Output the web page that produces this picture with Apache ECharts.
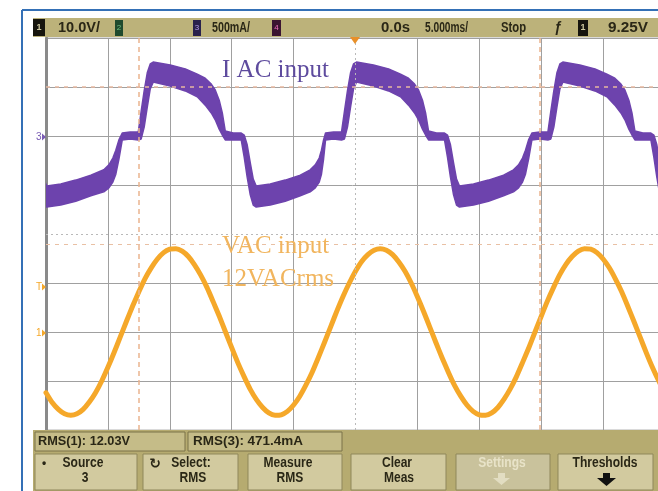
<!DOCTYPE html>
<html>
<head>
<meta charset="utf-8">
<script src="https://cdn.jsdelivr.net/npm/echarts@6/dist/echarts.min.js"></script>
<style>
  html, body { margin: 0; padding: 0; background: #ffffff; }
  #scope { width: 658px; height: 491px; }
</style>
</head>
<body>
<div id="scope"></div>
<script>
// Time base: 5 ms/div, t = 0 at the trigger point (ms)
const timeTicks = [-25, -20, -15, -10, -5, 0, 5, 10, 15, 20, 25];

// Channel 1: AC input voltage (V), 10 V/div, sampled every 0.5 ms
const voltTime = [
  -25, -24.5, -24, -23.5, -23, -22.5, -22, -21.5, -21, -20.5, -20, -19.5, -19, -18.5, -18, -17.5, -17, -16.5, -16, -15.5,
  -15, -14.5, -14, -13.5, -13, -12.5, -12, -11.5, -11, -10.5, -10, -9.5, -9, -8.5, -8, -7.5, -7, -6.5, -6, -5.5,
  -5, -4.5, -4, -3.5, -3, -2.5, -2, -1.5, -1, -0.5, 0, 0.5, 1, 1.5, 2, 2.5, 3, 3.5, 4, 4.5,
  5, 5.5, 6, 6.5, 7, 7.5, 8, 8.5, 9, 9.5, 10, 10.5, 11, 11.5, 12, 12.5, 13, 13.5, 14, 14.5,
  15, 15.5, 16, 16.5, 17, 17.5, 18, 18.5, 19, 19.5, 20, 20.5, 21, 21.5, 22, 22.5, 23, 23.5, 24, 24.5, 25
];
const voltValues = [
  -12.4, -14.4, -15.8, -16.7, -17.0, -16.7, -15.8, -14.3, -12.4, -10.0, -7.2, -4.2, -1.0, 2.2, 5.3, 8.2, 10.9, 13.1, 14.9, 16.2,
  16.9, 17.0, 16.5, 15.4, 13.7, 11.6, 9.1, 6.2, 3.2, 0.0, -3.2, -6.3, -9.1, -11.7, -13.8, -15.4, -16.5, -17.0, -16.9, -16.2,
  -14.9, -13.1, -10.8, -8.2, -5.2, -2.1, 1.1, 4.3, 7.3, 10.0, 12.4, 14.4, 15.8, 16.7, 17.0, 16.7, 15.8, 14.3, 12.4, 10.0,
  7.2, 4.2, 1.0, -2.2, -5.3, -8.2, -10.9, -13.1, -14.9, -16.2, -16.9, -17.0, -16.5, -15.4, -13.7, -11.6, -9.1, -6.2, -3.2, 0.0,
  3.2, 6.3, 9.1, 11.7, 13.8, 15.4, 16.5, 17.0, 16.9, 16.2, 14.9, 13.1, 10.8, 8.2, 5.2, 2.1, -1.1, -4.3, -7.3, -10.0, -12.4
];

// Channel 3: AC input current (mA), 500 mA/div; the trace is a band,
// so its top and bottom edges are kept separately
const currentTime = [
  -25.67, -25.42, -25.18, -24.94, -23.81, -22.60, -21.38, -20.33, -19.92, -19.60, -19.36, -19.11,
  -18.84, -18.20, -17.55, -17.31, -17.07, -16.82, -16.58, -16.34, -14.97, -13.75, -12.78, -12.14, -11.65, -11.33, -11.01, -10.76, -10.52, -9.88, -9.23, -8.99, -8.75, -8.50, -8.26, -8.02, -6.89, -5.68, -4.46, -3.66, -3.25, -2.93, -2.75, -2.58,
  -2.42, -1.78, -1.13, -0.89, -0.65, -0.40, -0.16, 0.08, 1.45, 2.67, 3.64, 4.28, 4.77, 5.09, 5.41, 5.66, 5.90, 6.54, 7.19, 7.43, 7.67, 7.92, 8.16, 8.40, 9.53, 10.74, 11.96, 12.76, 13.17, 13.49, 13.73, 13.98,
  14.25, 14.89, 15.54, 15.78, 16.02, 16.27, 16.51, 16.75, 18.12, 19.34, 20.31, 20.95, 21.44, 21.76, 22.08, 22.33, 22.57, 23.21, 23.86, 24.10, 24.34, 24.59, 24.83, 25.07
];
const currentUpper = [
  -90, -275, -440, -510, -490, -450, -400, -345, -295, -225, -145, -40,
  30, 40, 40, 255, 460, 645, 735, 755, 725, 685, 630, 590, 530, 470, 365, 235, 50, 30, 30, 10, -90, -275, -440, -510, -490, -450, -400, -345, -295, -225, -145, -40,
  30, 40, 40, 255, 460, 645, 735, 755, 725, 685, 630, 590, 530, 470, 365, 235, 50, 30, 30, 10, -90, -275, -440, -510, -490, -450, -400, -345, -295, -225, -145, -40,
  30, 40, 40, 255, 460, 645, 735, 755, 725, 685, 630, 590, 530, 470, 365, 235, 50, 30, 30, 10, -90, -275, -440, -510
];
const currentLower = [
  -420, -600, -705, -725, -705, -665, -610, -570, -530, -470, -390, -235,
  -40, -30, -40, -30, 90, 295, 480, 550, 510, 460, 400, 315, 235, 165, 70, 10, -40, -40, -40, -215, -420, -600, -705, -725, -705, -665, -610, -570, -530, -470, -390, -235,
  -40, -30, -40, -30, 90, 295, 480, 550, 510, 460, 400, 315, 235, 165, 70, 10, -40, -40, -40, -215, -420, -600, -705, -725, -705, -665, -610, -570, -530, -470, -390, -235,
  -40, -30, -40, -30, 90, 295, 480, 550, 510, 460, 400, 315, 235, 165, 70, 10, -40, -40, -40, -215, -420, -600, -705, -725
];

// Cursor positions
const xCursors = [-17.5, 14.9];   // ms
const yCursors = [50, 18];        // V

// Readouts and softkeys
const statusTexts = ['10.0V/', '500mA/', '0.0s', '5.000ms/', 'Stop', '9.25V'];
const measTexts = ['RMS(1): 12.03V', 'RMS(3): 471.4mA'];
const softkeys = [['Source', '3'], ['Select:', 'RMS'], ['Measure', 'RMS'], ['Clear', 'Meas'], ['Settings', ''], ['Thresholds', '']];

const ORANGE = '#f5a82a';
const PURPLE = '#6d43ad';
const KHAKI = '#bcb27a';
const PANEL = '#b6ab70';
const KEY = '#d2ca9f';
const INK = '#2a2716';
const UI = '"Liberation Sans", Arial, sans-serif';
const SERIF = '"Liberation Serif", "DejaVu Serif", serif';

// grid colours: the centre graticule lines are drawn separately (dotted)
const xGridColors = timeTicks.map(t => t === 0 ? 'rgba(0,0,0,0)' : '#a0a0a0');
const yGridColors = [-20, -10, 0, 10, 20, 30, 40, 50, 60].map(v => v === 20 ? 'rgba(0,0,0,0)' : '#a0a0a0');

const measureCtx = document.createElement('canvas').getContext('2d');

function rect(x, y, w, h, fill, stroke, z) {
  return { type: 'rect', z: z || 100, shape: { x: x, y: y, width: w, height: h },
    style: { fill: fill, stroke: stroke || null, lineWidth: stroke ? 1 : 0 } };
}
// scope-style condensed text: squeezed horizontally to a readout width, or by a fixed factor
function text(x, y, s, font, color, align, width, factor) {
  const el = { type: 'text', z: 110, x: x, y: y,
    style: { text: s, fill: color, font: font, align: align || 'left', verticalAlign: 'middle' } };
  if (width) {
    measureCtx.font = font;
    el.scaleX = width / measureCtx.measureText(s).width;
  } else if (factor) {
    el.scaleX = factor;
  }
  return el;
}
function poly(points, fill, z) {
  return { type: 'polygon', z: z || 110, shape: { points: points }, style: { fill: fill } };
}

const graphics = [];
// outer frame
graphics.push({ type: 'line', z: 120, shape: { x1: 22, y1: 10, x2: 658, y2: 10 }, style: { stroke: '#3470b6', lineWidth: 2 } });
graphics.push({ type: 'line', z: 120, shape: { x1: 22, y1: 10, x2: 22, y2: 491 }, style: { stroke: '#3470b6', lineWidth: 2 } });

// top status bar
const SB = 'bold 14px ' + UI;
graphics.push(rect(33, 18, 625, 19, KHAKI));
graphics.push(rect(33, 19, 12, 17, '#16150e'));
graphics.push(text(39, 28, '1', 'bold 9px ' + UI, '#cfc9a0', 'center'));
graphics.push(text(58, 28, statusTexts[0], SB, INK, 'left', 42));
graphics.push(rect(115, 20, 8, 16, '#1f4a2e'));
graphics.push(text(119, 28, '2', '8px ' + UI, '#6fbf80', 'center'));
graphics.push(rect(193, 20, 8, 16, '#29214c'));
graphics.push(text(197, 28, '3', '8px ' + UI, '#b49ae8', 'center'));
graphics.push(text(212, 28, statusTexts[1], SB, INK, 'left', 38));
graphics.push(rect(272, 20, 9, 16, '#3b1431'));
graphics.push(text(276.5, 28, '4', '8px ' + UI, '#f070c0', 'center'));
graphics.push(text(381, 28, statusTexts[2], SB, INK, 'left', 29));
graphics.push(text(425, 28, statusTexts[3], SB, INK, 'left', 43));
graphics.push(text(501, 28, statusTexts[4], SB, INK, 'left', 25));
graphics.push(text(558, 28, 'ƒ', 'italic bold 14px ' + UI, INK, 'center'));
graphics.push(rect(578, 20, 10, 16, '#16150e'));
graphics.push(text(583, 28, '1', 'bold 9px ' + UI, '#cfc9a0', 'center'));
graphics.push(text(608, 28, statusTexts[5], SB, INK, 'left', 40));

// trigger position marker
graphics.push(poly([[350, 37], [360, 37], [355, 44]], '#e8902a', 115));

// left margin ground / trigger level markers
graphics.push(text(36, 137, '3', '10px ' + UI, '#7a5cb4', 'left'));
graphics.push(poly([[42, 133.5], [46, 137], [42, 140.5]], '#7a5cb4'));
graphics.push(text(36, 287, 'T', '10px ' + UI, ORANGE, 'left'));
graphics.push(poly([[42, 283.5], [46, 287], [42, 290.5]], ORANGE));
graphics.push(text(36, 333, '1', '10px ' + UI, ORANGE, 'left'));
graphics.push(poly([[42, 329.5], [46, 333], [42, 336.5]], ORANGE));

// trace annotations
graphics.push(text(222, 70, 'I AC input', '25px ' + SERIF, '#5e4b9e', 'left'));
graphics.push(text(222, 246, 'VAC input', '25px ' + SERIF, '#f1b55e', 'left'));
graphics.push(text(222, 279, '12VACrms', '25px ' + SERIF, '#f1b55e', 'left'));

// bottom measurement panel
graphics.push(rect(33, 430, 625, 61, PANEL));
graphics.push(rect(35, 432, 150, 19, '#c5bc88', '#7a7248'));
graphics.push(text(38, 442, measTexts[0], 'bold 12px ' + UI, INK, 'left', 92));
graphics.push(rect(188, 432, 154, 19, '#c5bc88', '#7a7248'));
graphics.push(text(193, 442, measTexts[1], 'bold 12px ' + UI, INK, 'left', 110));

const keyX = [35, 143, 248, 351, 456, 558];
const keyW = [102, 95, 94, 95, 94, 95];
const keyTextX = [83, 191, 288, 397, 502, 605];
const KF = 'bold 14px ' + UI;
softkeys.forEach(function (k, i) {
  const grey = i === 4;
  graphics.push(rect(keyX[i], 454, keyW[i], 36, grey ? '#c9c29c' : KEY, '#8f875a'));
  graphics.push(text(keyTextX[i], 463, k[0], KF, grey ? '#e8e3c8' : INK, 'center', null, 0.86));
  if (k[1]) graphics.push(text(keyTextX[i] + 2, 478, k[1], KF, INK, 'center', null, 0.86));
});
graphics.push(text(44, 464, '•', 'bold 12px ' + UI, INK, 'center'));
graphics.push(text(155, 464, '↻', 'bold 14px "DejaVu Sans", sans-serif', INK, 'center'));
// disabled Settings arrow and Thresholds arrow
graphics.push(poly([[498, 473], [505, 473], [505, 478], [510, 478], [501.5, 485], [493, 478], [498, 478]], '#e2ddc2'));
graphics.push(poly([[603, 473], [610, 473], [610, 478], [616, 478], [606.5, 486], [597, 478], [603, 478]], '#111111'));

const chart = echarts.init(document.getElementById('scope'), null, { renderer: 'canvas' });
chart.setOption({
  animation: false,
  backgroundColor: '#ffffff',
  grid: { left: 46, top: 38, width: 619, height: 392, show: true, borderColor: '#b4b4b4', borderWidth: 1,
    containLabel: false, outerBoundsMode: 'none' },
  xAxis: {
    type: 'value', min: -25, max: 25, interval: 5,
    axisLabel: { show: false }, axisTick: { show: false }, axisLine: { show: false },
    splitLine: { show: true, lineStyle: { color: xGridColors, width: 1 } }
  },
  yAxis: [
    {
      type: 'value', min: -20, max: 60, interval: 10, position: 'left',
      axisLabel: { show: false }, axisTick: { show: false },
      axisLine: { show: true, onZero: false, lineStyle: { color: '#8a8a8a', width: 3 } },
      splitLine: { show: true, lineStyle: { color: yGridColors, width: 1 } }
    },
    {
      type: 'value', min: -3000, max: 1000, interval: 500, position: 'right',
      axisLabel: { show: false }, axisTick: { show: false }, axisLine: { show: false }, splitLine: { show: false }
    }
  ],
  series: [
    {
      // graticule centre lines and cursors
      type: 'line', data: [], xAxisIndex: 0, yAxisIndex: 0, z: 1, silent: true,
      markLine: {
        silent: true, symbol: 'none', label: { show: false }, animation: false,
        data: [
          { xAxis: 0, lineStyle: { color: '#b9b9b9', type: [2, 3], width: 1 } },
          { yAxis: 20, lineStyle: { color: '#b9b9b9', type: [2, 3], width: 1 } },
          { xAxis: xCursors[0], lineStyle: { color: '#eab48e', type: [5, 4], width: 1.5 } },
          { xAxis: xCursors[1], lineStyle: { color: '#eab48e', type: [5, 4], width: 1.5 } },
          { yAxis: yCursors[0], lineStyle: { color: '#e6b8a0', type: [4, 5], width: 1.5 } },
          { yAxis: yCursors[1], lineStyle: { color: '#e9c0a4', type: [4, 5], width: 1.2 } }
        ]
      }
    },
    {
      name: 'I AC input', type: 'custom', coordinateSystem: 'cartesian2d',
      xAxisIndex: 0, yAxisIndex: 1, z: 3, silent: true,
      data: [[0, 0]],
      renderItem: function (params, api) {
        const pts = [];
        for (let i = 0; i < currentTime.length; i++) pts.push(api.coord([currentTime[i], currentUpper[i]]));
        for (let i = currentTime.length - 1; i >= 0; i--) pts.push(api.coord([currentTime[i], currentLower[i]]));
        const cs = params.coordSys;
        return {
          type: 'polygon',
          shape: { points: pts },
          style: { fill: PURPLE, stroke: PURPLE, lineWidth: 1.5, lineJoin: 'round' },
          clipPath: { type: 'rect', shape: { x: cs.x, y: cs.y, width: cs.width, height: cs.height } }
        };
      }
    },
    {
      name: 'VAC input', type: 'line', xAxisIndex: 0, yAxisIndex: 0, z: 4,
      data: voltTime.map((t, i) => [t, voltValues[i]]),
      smooth: 0.2, showSymbol: false, symbol: 'none', clip: true,
      lineStyle: { color: ORANGE, width: 5, join: 'round', cap: 'round' }
    }
  ],
  graphic: graphics
});
</script>
</body>
</html>
